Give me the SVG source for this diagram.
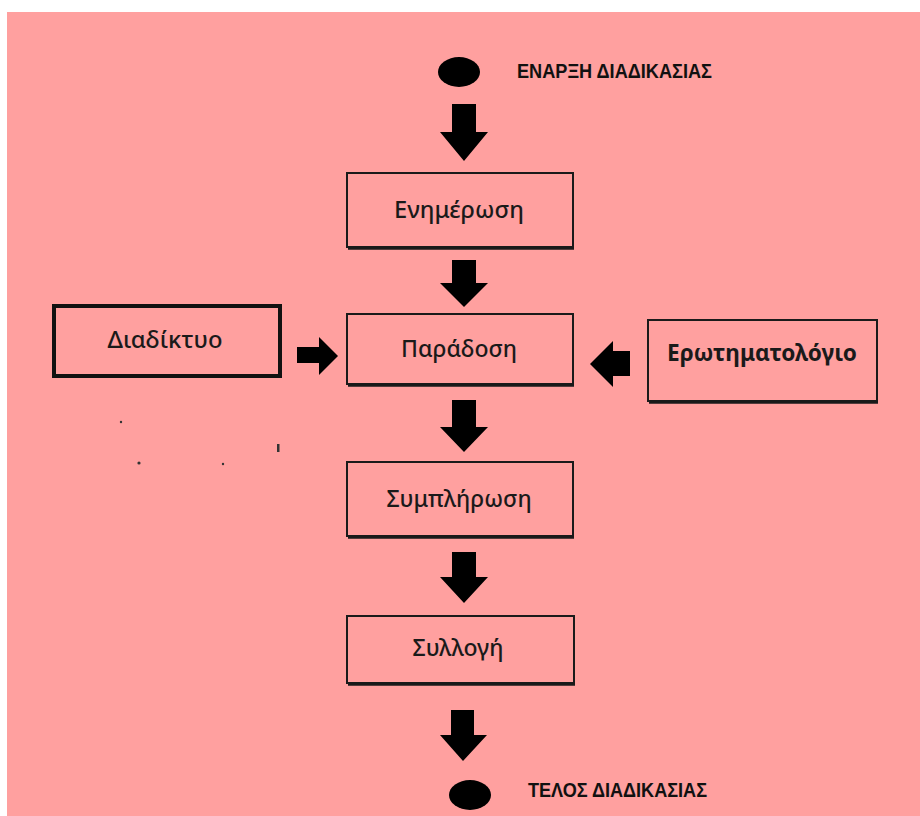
<svg xmlns="http://www.w3.org/2000/svg" width="920" height="816" viewBox="0 0 920 816">
<defs>
<style>
.box{fill:none;stroke:#1a1a1a;stroke-width:2}
.sh{stroke:#1a1a1a;stroke-width:2.5;fill:none}
.lbl{font-family:"Noto Sans","Open Sans",sans-serif;font-size:23px;font-weight:500;fill:#1a1a1a;text-anchor:middle;dominant-baseline:central}
.lbl.b{font-weight:bold;font-size:24px}
.hdr{font-family:"Liberation Sans",Arial,sans-serif;font-size:21px;font-weight:bold;fill:#111}
.arr{fill:#000}
.dot{fill:#333}
</style>
</defs>
<rect x="0" y="0" width="920" height="816" fill="#ffffff"/>
<rect x="7" y="12" width="913" height="804" fill="#FFA09F"/>

<g id="start">
<ellipse cx="459" cy="72" rx="21" ry="15" fill="#000"/>
<text class="hdr" x="517" y="78" textLength="195" lengthAdjust="spacingAndGlyphs">ΕΝΑΡΞΗ ΔΙΑΔΙΚΑΣΙΑΣ</text>
</g>

<g id="enimerosi">
<rect class="box" x="347" y="173" width="226" height="74"/>
<line class="sh" x1="348" y1="248.5" x2="574" y2="248.5"/>
<text class="lbl" x="459" y="209" textLength="130" lengthAdjust="spacingAndGlyphs">Ενημέρωση</text>
</g>

<g id="paradosi">
<rect class="box" x="347" y="314" width="226" height="70"/>
<line class="sh" x1="348" y1="385.5" x2="574" y2="385.5"/>
<text class="lbl" x="459" y="348">Παράδοση</text>
</g>

<g id="diadiktyo">
<rect x="54" y="306" width="226" height="70" fill="none" stroke="#111" stroke-width="4"/>
<text class="lbl" x="165" y="339" textLength="115" lengthAdjust="spacingAndGlyphs">Διαδίκτυο</text>
</g>

<g id="erotimatologio">
<rect class="box" x="648" y="320" width="229" height="81"/>
<line class="sh" x1="649" y1="402.5" x2="878" y2="402.5"/>
<text class="lbl b" x="762" y="351" textLength="190" lengthAdjust="spacingAndGlyphs">Ερωτηματολόγιο</text>
</g>

<g id="symplirosi">
<rect class="box" x="347" y="462" width="226" height="74"/>
<line class="sh" x1="348" y1="537.5" x2="574" y2="537.5"/>
<text class="lbl" x="459" y="498">Συμπλήρωση</text>
</g>

<g id="syllogi">
<rect class="box" x="347" y="616" width="227" height="67"/>
<line class="sh" x1="348" y1="684.5" x2="575" y2="684.5"/>
<text class="lbl" x="458" y="647">Συλλογή</text>
</g>

<g id="end">
<ellipse cx="470" cy="795" rx="21" ry="15" fill="#000"/>
<text class="hdr" x="528" y="797" textLength="179" lengthAdjust="spacingAndGlyphs">ΤΕΛΟΣ ΔΙΑΔΙΚΑΣΙΑΣ</text>
</g>

<g id="specks">
<circle class="dot" cx="121" cy="422" r="1.2"/>
<circle class="dot" cx="139" cy="463" r="1.6"/>
<circle class="dot" cx="223" cy="464" r="1.2"/>
<rect class="dot" x="277" y="444" width="2.5" height="8"/>
</g>

<g id="connectors">
<polygon class="arr" points="452,104 476,104 476,132 488,132 464,161 440,132 452,132"/>
<polygon class="arr" points="452,260 476,260 476,283 488,283 464,307 440,283 452,283"/>
<polygon class="arr" points="452,400 476,400 476,427 488,427 464,452 440,427 452,427"/>
<polygon class="arr" points="452,552 476,552 476,577 488,577 464,603 440,577 452,577"/>
<polygon class="arr" points="451,710 474,710 474,735 487,735 463,761 440,735 451,735"/>
<polygon class="arr" points="297,347 319,347 319,337 338,356 319,375 319,363 297,363"/>
<polygon class="arr" points="630,351 613,351 613,341 590,364 613,387 613,376 630,376"/>
</g>
</svg>
